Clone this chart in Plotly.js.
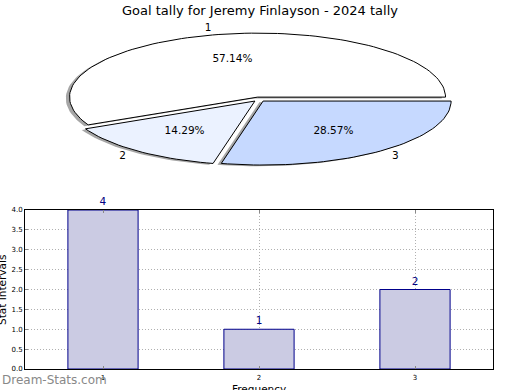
<!DOCTYPE html>
<html>
<head>
<meta charset="utf-8">
<script src="https://cdn.plot.ly/plotly-3.0.1.min.js"></script>
<style>html,body{margin:0;padding:0;background:#fff;}#chart{width:520px;height:390px;}</style>
</head>
<body>
<div id="chart"></div>
<script>
// ---- data ----
const chartTitle = 'Goal tally for Jeremy Finlayson - 2024 tally';
const pieLabels = ['1', '2', '3'];
const pieValues = [4, 1, 2];
const barCategories = [1, 2, 3];
const barValues = [4, 1, 2];
const barTextLabels = ['4', '1', '2'];
const xTickVals = [1, 2, 3];
const xTickLabels = ['1', '2', '3'];
const yTickVals = [0, 0.5, 1, 1.5, 2, 2.5, 3, 3.5, 4];
const yTickLabels = ['0.0', '0.5', '1.0', '1.5', '2.0', '2.5', '3.0', '3.5', '4.0'];
const xAxisTitle = 'Frequency';
const yAxisTitle = 'Stat Intervals';
const watermark = 'Dream-Stats.com';

// ---- styles ----
const pieColors = ['#ffffff', '#ebf2ff', '#c6d9ff'];
const explode = 0.035;
const shadowDx = -0.02, shadowDy = -0.02;
const FONT = 'DejaVu Sans, sans-serif';

// ---- build pie wedges (unit circle, squashed by axis ranges) ----
const total = pieValues.reduce((a, b) => a + b, 0);
const traces = [];
const wedges = [];
let start = 0;
pieValues.forEach((v, i) => {
  const t1 = start, t2 = start + 360 * v / total;
  start = t2;
  const mid = (t1 + t2) / 2 * Math.PI / 180;
  const cx = explode * Math.cos(mid), cy = explode * Math.sin(mid);
  const xs = [cx], ys = [cy];
  const n = Math.max(8, Math.ceil((t2 - t1) / 2));
  for (let k = 0; k <= n; k++) {
    const a = (t1 + (t2 - t1) * k / n) * Math.PI / 180;
    xs.push(cx + Math.cos(a)); ys.push(cy + Math.sin(a));
  }
  xs.push(cx); ys.push(cy);
  wedges.push({xs, ys, cx, cy, mid, i});
});
// shadows first
wedges.forEach(w => {
  traces.push({
    type: 'scatter', mode: 'lines', xaxis: 'x2', yaxis: 'y2',
    x: w.xs.map(x => x + shadowDx), y: w.ys.map(y => y + shadowDy),
    fill: 'toself', fillcolor: 'rgba(77,77,77,0.5)', line: {width: 0, color: 'rgba(0,0,0,0)'},
    hoverinfo: 'skip', showlegend: false
  });
});
wedges.forEach(w => {
  traces.push({
    type: 'scatter', mode: 'lines', xaxis: 'x2', yaxis: 'y2',
    x: w.xs, y: w.ys,
    fill: 'toself', fillcolor: pieColors[w.i], line: {width: 1, color: '#000'},
    hoverinfo: 'skip', showlegend: false
  });
});
// labels and percentages
wedges.forEach(w => {
  const lx = w.cx + 1.1 * Math.cos(w.mid), ly = w.cy + 1.1 * Math.sin(w.mid);
  const px = w.cx + 0.6 * Math.cos(w.mid), py = w.cy + 0.6 * Math.sin(w.mid);
  traces.push({
    type: 'scatter', mode: 'text', xaxis: 'x2', yaxis: 'y2',
    x: [lx], y: [ly], text: [pieLabels[w.i]],
    textposition: lx > 0 ? 'middle right' : 'middle left',
    textfont: {family: FONT, size: 10.5, color: '#000'},
    hoverinfo: 'skip', showlegend: false, cliponaxis: false
  });
  const pct = (100 * pieValues[w.i] / total).toFixed(2) + '%';
  traces.push({
    type: 'scatter', mode: 'text', xaxis: 'x2', yaxis: 'y2',
    x: [px], y: [py], text: [pct], textposition: 'middle center',
    textfont: {family: FONT, size: 10.5, color: '#000'},
    hoverinfo: 'skip', showlegend: false, cliponaxis: false
  });
});

// ---- bar chart ----
traces.push({
  type: 'bar', x: barCategories, y: barValues, width: 0.45,
  marker: {color: '#cbcbe3', line: {color: '#00008b', width: 1}},
  text: barTextLabels, textposition: 'outside', cliponaxis: false,
  textfont: {family: FONT, size: 10.5, color: '#000080'},
  hoverinfo: 'skip', showlegend: false
});

// pixel geometry helpers
const W = 520, H = 390;
const rx = 188, ry = 64, pcx = 259, pcy = 99.3;
const pieBottom = 175.5;

const layout = {
  width: W, height: H,
  margin: {l: 0, r: 0, t: 0, b: 0, pad: 0},
  paper_bgcolor: '#fff', plot_bgcolor: '#fff',
  showlegend: false,
  font: {family: FONT, color: '#000'},
  title: {text: chartTitle, font: {family: FONT, size: 13, color: '#000'},
          x: 0.5, xanchor: 'center', y: 1 - 10 / H, yanchor: 'middle', yref: 'container'},
  xaxis2: {domain: [0, 1], range: [-pcx / rx, (W - pcx) / rx], visible: false, fixedrange: true},
  yaxis2: {domain: [1 - pieBottom / H, 1], range: [-(pieBottom - pcy) / ry, pcy / ry], visible: false, fixedrange: true},
  xaxis: {
    domain: [25 / W, 493 / W], range: [0.5, 3.5], anchor: 'y',
    tickmode: 'array', tickvals: xTickVals, ticktext: xTickLabels,
    tickfont: {family: FONT, size: 7, color: '#000'},
    ticks: 'inside', ticklen: 3, tickcolor: '#888', ticklabelstandoff: 2,
    showline: true, linecolor: '#000', linewidth: 1, mirror: 'ticks',
    showgrid: true, gridcolor: '#b0b0b0', griddash: '1px,2px', gridwidth: 1,
    zeroline: false, automargin: false
  },
  yaxis: {
    domain: [(H - 369) / H, (H - 210) / H], range: [0, 4], anchor: 'x',
    tickmode: 'array', tickvals: yTickVals, ticktext: yTickLabels,
    tickfont: {family: FONT, size: 7, color: '#000'},
    ticks: 'inside', ticklen: 3, tickcolor: '#888',
    showline: true, linecolor: '#000', linewidth: 1, mirror: 'ticks',
    showgrid: true, gridcolor: '#b0b0b0', griddash: '1px,2px', gridwidth: 1,
    zeroline: false, automargin: false
  },
  annotations: [
    {
      text: xAxisTitle, xref: 'paper', yref: 'paper', x: 259 / W, y: 1 - 389 / H,
      xanchor: 'center', yanchor: 'middle', showarrow: false,
      font: {family: FONT, size: 10.5, color: '#000'}
    },
    {
      text: yAxisTitle, xref: 'paper', yref: 'paper', x: 2 / W, y: 1 - 290 / H,
      xanchor: 'center', yanchor: 'middle', showarrow: false, textangle: -90,
      font: {family: FONT, size: 10.5, color: '#000'}
    },
    {
      text: watermark, xref: 'paper', yref: 'paper', x: 0, y: 1 - 380 / H,
      xanchor: 'left', yanchor: 'middle', showarrow: false,
      font: {family: FONT, size: 12, color: '#888'}
    }
  ]
};

Plotly.newPlot('chart', traces, layout, {staticPlot: true, displayModeBar: false});
</script>
</body>
</html>
